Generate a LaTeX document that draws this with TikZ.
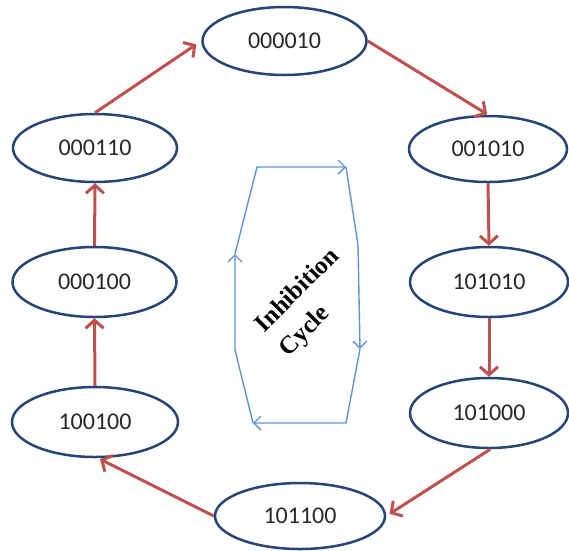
\documentclass[tikz,border=0pt]{standalone}
\usepackage{fontspec}
\setmainfont{Carlito}
\newfontfamily\serifbold{Liberation Serif}
\usetikzlibrary{shapes.geometric,arrows.meta}

\definecolor{statered}{RGB}{192,80,77}
\definecolor{stateline}{RGB}{38,68,118}
\definecolor{cyclecol}{RGB}{96,146,212}
\definecolor{labelcol}{RGB}{40,40,40}

\begin{document}
\begin{tikzpicture}[x=1pt,y=-1pt,
  state/.style={ellipse,draw=stateline,line width=2.5pt,fill=white,inner sep=0pt,
    text=labelcol,font=\fontsize{24}{28}\selectfont},
  trans/.style={draw=statered,line width=3pt,
    -{Straight Barb[length=8pt,width=18pt]}},
  cyc/.style={draw=cyclecol,line width=1.4pt,line join=round,
    -{Straight Barb[length=7pt,width=14pt]}}]
\useasboundingbox (0,0) rectangle (569,550);

% states of the cycle
\node[state,minimum width=164pt,minimum height=68pt] (s1) at (284.5,41) {000010};
\node[state,minimum width=158pt,minimum height=66pt] (s2) at (488,149) {001010};
\node[state,minimum width=158pt,minimum height=70pt] (s3) at (489,282) {101010};
\node[state,minimum width=158pt,minimum height=70pt] (s4) at (489,413) {101000};
\node[state,minimum width=170pt,minimum height=66pt] (s5) at (300,516) {101100};
\node[state,minimum width=166pt,minimum height=70pt] (s6) at (95,422) {100100};
\node[state,minimum width=164pt,minimum height=70pt] (s7) at (94.5,282) {000100};
\node[state,minimum width=164pt,minimum height=68pt] (s8) at (95,148) {000110};

% transitions
\draw[trans,shorten >=6pt] (s8.north) -- (s1.west);
\draw[trans,shorten >=1pt] (s1.east) -- (s2.north);
\draw[trans] (s2.south) -- (s3.north);
\draw[trans] (s3.south) -- (s4.north);
\draw[trans,shorten >=4pt] (s4.-88) -- (s5.east);
\draw[trans,shorten >=2pt] (s5.west) -- (s6.-85);
\draw[trans] (s6.north) -- (s7.south);
\draw[trans] (s7.north) -- (s8.south);

% inner inhibition loop
\coordinate (c1) at (257,167);
\coordinate (c2) at (346,167);
\coordinate (c3) at (358,245);
\coordinate (c4) at (360,349);
\coordinate (c5) at (346,423);
\coordinate (c6) at (253,423);
\coordinate (c7) at (235,350);
\coordinate (c8) at (235,254);
\draw[cyc] (c8) -- (c1) -- (c2);
\draw[cyc] (c2) -- (c3) -- (c4);
\draw[cyc] (c4) -- (c5) -- (c6);
\draw[cyc] (c6) -- (c7) -- (c8);

\node[rotate=45,align=left,inner sep=0pt,
  font=\serifbold\bfseries\fontsize{25}{34}\selectfont]
  (lbl) at (310,303) {Inhibition\\Cycle};
\end{tikzpicture}
\end{document}
